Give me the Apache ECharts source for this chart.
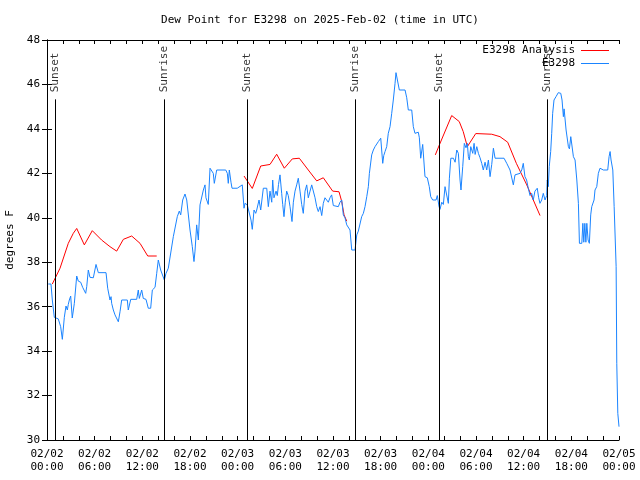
<!DOCTYPE html>
<html><head><meta charset="utf-8">
<script src="https://cdn.jsdelivr.net/npm/echarts@6/dist/echarts.min.js"></script>
<style>html,body{margin:0;padding:0;background:#fff}#c{width:640px;height:480px}</style>
</head><body><div id="c"></div>
<script>
// time in hours since 2025-02-02 00:00 UTC
const analysisData = [
 [0.67,37.02],[1.64,37.73],[2.68,38.85],[3.31,39.3],[3.74,39.52],[4.70,38.78],[5.70,39.42],[6.87,39.0],[7.93,38.7],[8.77,38.5],[9.61,39.03],[10.66,39.18],[11.71,38.85],[12.68,38.28],[13.81,38.28],
 null,
 [24.80,41.88],[25.84,41.32],[26.90,42.33],[28.07,42.4],[28.91,42.86],[29.87,42.23],[30.88,42.65],[31.76,42.68],[32.89,42.15],[33.95,41.66],[34.78,41.8],[35.96,41.2],[36.76,41.17],[37.10,40.73],[37.39,40.13],[37.73,39.85],
 null,
 [48.88,42.83],[49.39,43.28],[50.94,44.6],[51.89,44.33],[52.39,43.88],[52.91,43.2],[53.97,43.79],[55.98,43.76],[57.02,43.65],[57.99,43.4],[59.08,42.45],[60.39,41.48],[62.06,40.1]
];
const obsData = [
 [0.16,37.02],[0.50,37.02],[0.67,36.3],[0.92,35.52],[1.42,35.45],[1.72,35.1],[1.93,34.53],[2.18,35.52],[2.39,36.03],[2.56,35.85],[2.68,36.1],[2.81,36.3],[2.98,36.48],[3.18,35.49],[3.44,36.15],[3.74,37.38],[3.94,37.15],[4.24,37.1],[4.49,36.87],[4.87,36.6],[5.00,36.9],[5.20,37.65],[5.41,37.32],[5.83,37.3],[6.17,37.9],[6.46,37.53],[7.43,37.53],[7.64,36.83],[7.93,36.3],[8.06,36.45],[8.14,36.15],[8.35,35.85],[8.56,35.63],[8.77,35.6],[8.98,35.32],[9.19,35.77],[9.40,36.3],[10.11,36.3],[10.23,35.85],[10.54,36.33],[11.29,36.33],[11.49,36.75],[11.62,36.37],[11.92,36.75],[12.12,36.37],[12.46,36.33],[12.75,35.93],[13.05,35.93],[13.26,36.75],[13.60,36.87],[13.81,37.5],[14.01,38.1],[14.31,37.65],[14.56,37.6],[14.77,37.2],[14.82,37.13],[14.98,37.5],[15.27,37.73],[15.40,37.8],[15.90,39.15],[16.40,40.05],[16.65,40.3],[16.83,40.13],[17.08,40.8],[17.37,41.07],[17.59,40.8],[18.00,39.45],[18.29,38.7],[18.50,38.03],[18.63,38.5],[18.84,39.68],[19.05,39.0],[19.26,40.58],[19.47,40.58],[19.68,41.25],[19.89,41.48],[20.01,40.9],[20.30,40.6],[20.52,42.23],[20.73,42.3],[20.93,42.0],[21.06,41.55],[21.36,42.15],[22.50,42.15],[22.70,42.0],[22.82,41.55],[22.95,42.15],[23.16,41.6],[23.29,41.33],[23.95,41.33],[24.58,41.48],[24.80,40.43],[24.92,40.65],[25.21,40.58],[25.46,40.6],[25.68,39.9],[25.84,39.48],[26.06,40.35],[26.27,40.2],[26.40,40.35],[26.69,40.8],[26.90,40.35],[27.23,41.33],[27.66,41.33],[27.86,40.5],[28.07,41.2],[28.29,40.7],[28.41,41.7],[28.57,40.9],[28.83,41.2],[28.99,41.0],[29.14,41.5],[29.33,41.93],[29.54,41.1],[29.67,40.6],[29.83,40.05],[29.99,40.7],[30.17,41.2],[30.37,41.0],[30.59,40.5],[30.84,39.83],[31.01,40.7],[31.22,41.2],[31.43,41.48],[31.63,41.78],[31.85,41.2],[32.06,40.6],[32.26,40.2],[32.48,41.2],[32.69,41.48],[32.89,40.9],[33.11,41.2],[33.32,41.48],[33.52,41.4],[33.74,40.9],[33.95,40.5],[34.15,40.28],[34.37,40.5],[34.58,40.1],[34.78,40.65],[34.99,40.9],[35.21,40.95],[35.41,40.7],[35.62,40.9],[35.83,41.03],[36.04,40.55],[36.25,40.5],[36.67,40.5],[36.88,40.7],[37.10,40.8],[37.30,40.13],[37.51,40.0],[37.73,39.68],[37.93,39.75],[38.14,39.45],[38.36,38.55],[38.77,38.55],[38.99,39.23],[39.19,39.4],[39.40,39.45],[39.61,40.05],[39.82,40.2],[40.03,40.5],[40.25,40.95],[40.45,41.4],[40.58,42.0],[40.87,42.83],[41.08,43.05],[41.29,43.2],[41.71,43.43],[42.01,43.58],[42.26,42.45],[42.39,42.8],[42.55,42.98],[42.76,43.2],[42.96,43.8],[43.18,44.1],[43.39,44.7],[43.59,45.3],[43.81,46.05],[43.93,46.53],[44.10,46.53],[44.35,45.75],[45.07,45.75],[45.28,45.4],[45.48,44.85],[45.91,44.85],[46.11,44.1],[46.32,43.8],[46.74,43.85],[46.87,43.6],[47.04,42.68],[47.29,43.3],[47.58,41.85],[47.87,41.8],[48.12,41.4],[48.30,40.95],[48.55,40.8],[48.97,40.8],[49.13,41.0],[49.35,40.5],[49.47,40.38],[49.69,40.7],[49.89,40.6],[50.10,41.4],[50.35,41.45],[50.52,40.65],[50.65,41.78],[50.83,42.68],[51.16,42.68],[51.37,42.5],[51.58,43.05],[51.78,42.9],[51.99,41.7],[52.11,41.25],[52.33,42.3],[52.53,43.35],[52.74,43.15],[52.91,43.35],[53.04,42.75],[53.16,42.6],[53.34,43.2],[53.47,43.05],[53.59,42.9],[53.76,43.35],[53.89,42.85],[54.10,43.2],[54.30,42.9],[54.51,42.7],[54.72,42.45],[54.92,42.15],[55.14,42.5],[55.35,42.15],[55.56,42.6],[55.77,41.85],[55.98,42.4],[56.19,43.13],[56.40,42.68],[57.53,42.68],[57.66,42.75],[57.87,42.45],[58.28,42.15],[58.50,42.15],[58.70,41.48],[58.91,41.93],[59.54,42.0],[59.76,42.15],[59.95,42.45],[60.16,41.85],[60.37,41.7],[60.58,41.33],[60.80,41.0],[61.01,41.1],[61.21,40.8],[61.42,41.2],[61.71,41.33],[61.89,40.9],[62.05,40.65],[62.27,40.8],[62.47,41.1],[62.69,40.8],[62.90,41.0],[62.97,41.7],[63.10,41.4],[63.22,42.3],[63.40,42.98],[63.53,43.8],[63.65,44.7],[63.82,45.3],[64.07,45.45],[64.36,45.63],[64.67,45.6],[64.83,45.3],[65.00,44.55],[65.09,44.9],[65.21,44.9],[65.34,43.95],[65.50,43.9],[65.63,43.2],[65.76,43.1],[65.93,43.65],[66.06,43.7],[66.26,42.75],[66.47,42.6],[66.69,41.7],[66.89,40.65],[67.02,38.85],[67.32,38.85],[67.45,39.75],[67.57,38.9],[67.70,39.75],[67.83,38.9],[67.95,39.75],[68.11,39.0],[68.27,38.85],[68.44,40.13],[68.57,40.5],[68.86,40.8],[68.98,41.25],[69.20,41.4],[69.40,42.0],[69.61,42.23],[70.03,42.15],[70.58,42.15],[70.75,42.75],[70.88,42.98],[71.00,42.6],[71.22,42.15],[71.39,40.5],[71.64,37.8],[71.72,33.45],[71.85,31.2],[72.0,30.6]
];
const sunTimes = [1.05, 14.77, 25.21, 38.84, 49.39, 62.98];
const sunNames = ['Sunset','Sunrise','Sunset','Sunrise','Sunset','Sunrise'];
const sunLineTop = 45.33;
const yMin = 30, yMax = 48, yStep = 2;
const xTickLabels = ['02/02\n00:00','02/02\n06:00','02/02\n12:00','02/02\n18:00','02/03\n00:00','02/03\n06:00','02/03\n12:00','02/03\n18:00','02/04\n00:00','02/04\n06:00','02/04\n12:00','02/04\n18:00','02/05\n00:00'];
const titleText = 'Dew Point for E3298 on 2025-Feb-02 (time in UTC)';
const seriesNames = ['E3298 Analysis','E3298'];
const seriesColors = ['#ff0000','#1a84ff'];

const FONT = 'DejaVu Sans Mono';
const chart = echarts.init(document.getElementById('c'), null, {renderer:'canvas'});
const axisCommon = {
  type:'value', min:0, max:72, interval:2,
  axisLine:{show:true, lineStyle:{color:'#000', width:1}},
  axisTick:{show:true, inside:true, length:4, lineStyle:{color:'#000'}},
  splitLine:{show:false}
};
const yCommon = {
  type:'value', min:yMin, max:yMax, interval:yStep,
  axisLine:{show:true, lineStyle:{color:'#000', width:1}},
  axisTick:{show:true, inside:true, length:5, lineStyle:{color:'#000'}},
  splitLine:{show:false}
};
const legendFor = (i, top) => ({
  data:[{name:seriesNames[i], icon:'rect', itemStyle:{color:seriesColors[i], borderWidth:0, opacity:1}}],
  right:31, top:top, padding:0, align:'right', itemWidth:28, itemHeight:1, itemGap:0,
  textStyle:{fontFamily:FONT, fontSize:11, color:'#000', padding:[0,1,0,0]}
});
chart.setOption({
  animation:false,
  backgroundColor:'#fff',
  textStyle:{fontFamily:FONT},
  title:{text:titleText, left:'center', top:10, textStyle:{fontFamily:FONT, fontSize:11, fontWeight:'normal', color:'#000'}},
  grid:{left:47, right:21, top:40, bottom:40, containLabel:false, outerBoundsMode:'none'},
  legend:[legendFor(0, 45), legendFor(1, 58)],
  xAxis:[
    Object.assign({}, axisCommon, {position:'bottom',
      axisLabel:{show:true, fontFamily:FONT, fontSize:11, color:'#000', lineHeight:13, margin:8, showMaxLabel:true, showMinLabel:true,
        formatter:v => (Math.round(v)%6===0) ? xTickLabels[Math.round(v)/6] : ''}}),
    Object.assign({}, axisCommon, {position:'top', axisLabel:{show:false}})
  ],
  yAxis:[
    Object.assign({}, yCommon, {position:'left', name:'degrees F', nameLocation:'middle', nameRotate:90, nameGap:31,
      nameTextStyle:{fontFamily:FONT, fontSize:11, color:'#000'},
      axisLabel:{show:true, fontFamily:FONT, fontSize:11, color:'#000', margin:7}}),
    Object.assign({}, yCommon, {position:'right', axisLabel:{show:false}})
  ],
  series:[
    {name:seriesNames[0], type:'line', data:analysisData, showSymbol:false, symbol:'none', connectNulls:false,
     lineStyle:{color:seriesColors[0], width:1}, itemStyle:{color:seriesColors[0]}, z:3},
    {name:seriesNames[1], type:'line', data:obsData, showSymbol:false, symbol:'none',
     lineStyle:{color:seriesColors[1], width:1}, itemStyle:{color:seriesColors[1]}, z:4},
    {name:'sun', type:'line', data:[], symbol:'none',
     markLine:{silent:true, symbol:['none','none'], animation:false,
       lineStyle:{color:'#000', width:1, type:'solid'}, label:{show:false},
       data: sunTimes.map(t => [{coord:[t, yMin]}, {coord:[t, sunLineTop]}])}},
    {name:'sunlabels', type:'scatter', symbolSize:0, silent:true,
     data: sunTimes.map((t,i) => [t, sunLineTop, sunNames[i]]),
     label:{show:true, formatter:p => p.data[2], position:'top', distance:7, rotate:90, align:'left', verticalAlign:'middle',
       fontFamily:FONT, fontSize:11, color:'#000'}}
  ]
});
</script></body></html>
